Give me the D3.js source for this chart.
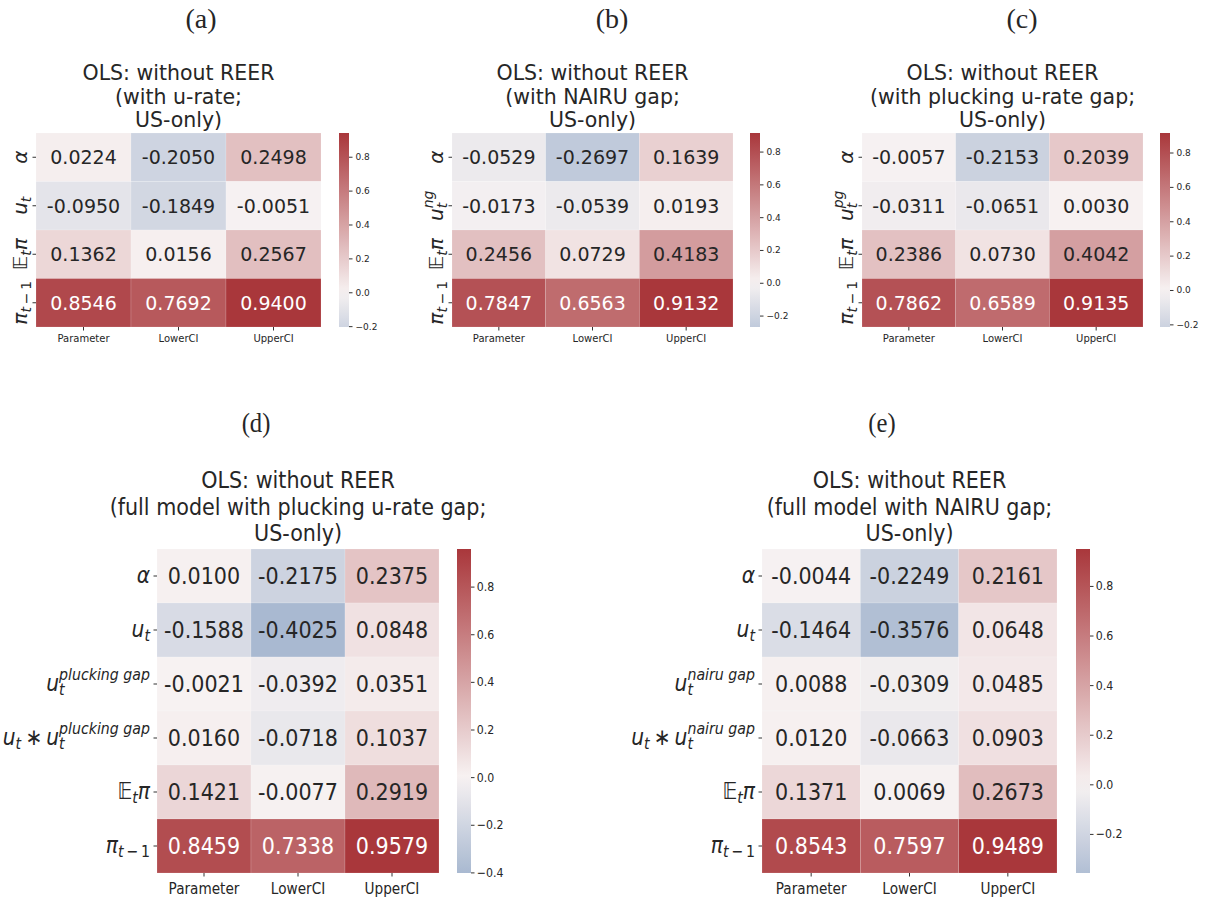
<!DOCTYPE html>
<html>
<head>
<meta charset="utf-8">
<script src="https://cdn.jsdelivr.net/npm/d3@7"></script>
<style>
  body { margin: 0; background: #fff; }
  svg text { fill: #262626; }
</style>
</head>
<body>
<svg id="fig" width="1225" height="907"></svg>
<script>
const columns = ["Parameter", "LowerCI", "UpperCI"];

// row labels as math pieces: {t, s}; s: sub (italic), subr (upright), sup, bb, op
const rowsTop4 = (gap) => [
  [{t: "α"}],
  gap ? [{t: "u"}, {t: "t", s: "sub"}, {t: gap, s: "sup"}] : [{t: "u"}, {t: "t", s: "sub"}],
  [{t: "𝔼", s: "bb"}, {t: "t", s: "sub"}, {t: "π"}],
  [{t: "π"}, {t: "t", s: "sub"}, {t: "\u2009−\u20091", s: "subr"}]
];
const rowsA = rowsTop4(null);
const rowsB = rowsTop4("ng");
const rowsC = rowsTop4("pg");
const rowsFull = (gap) => [
  [{t: "α"}],
  [{t: "u"}, {t: "t", s: "sub"}],
  [{t: "u"}, {t: "t", s: "sub"}, {t: gap, s: "sup"}],
  [{t: "u"}, {t: "t", s: "sub"}, {t: "\u2009∗\u2009", s: "op"}, {t: "u"}, {t: "t", s: "sub"}, {t: gap, s: "sup"}],
  [{t: "𝔼", s: "bb"}, {t: "t", s: "sub"}, {t: "π"}],
  [{t: "π"}, {t: "t", s: "sub"}, {t: "\u2009−\u20091", s: "subr"}]
];
const rowsD = rowsFull("plucking gap");
const rowsE = rowsFull("nairu gap");

const valuesA = [[0.0224, -0.2050, 0.2498], [-0.0950, -0.1849, -0.0051], [0.1362, 0.0156, 0.2567], [0.8546, 0.7692, 0.9400]];
const valuesB = [[-0.0529, -0.2697, 0.1639], [-0.0173, -0.0539, 0.0193], [0.2456, 0.0729, 0.4183], [0.7847, 0.6563, 0.9132]];
const valuesC = [[-0.0057, -0.2153, 0.2039], [-0.0311, -0.0651, 0.0030], [0.2386, 0.0730, 0.4042], [0.7862, 0.6589, 0.9135]];
const valuesD = [[0.0100, -0.2175, 0.2375], [-0.1588, -0.4025, 0.0848], [-0.0021, -0.0392, 0.0351],
                 [0.0160, -0.0718, 0.1037], [0.1421, -0.0077, 0.2919], [0.8459, 0.7338, 0.9579]];
const valuesE = [[-0.0044, -0.2249, 0.2161], [-0.1464, -0.3576, 0.0648], [0.0088, -0.0309, 0.0485],
                 [0.0120, -0.0663, 0.0903], [0.1371, 0.0069, 0.2673], [0.8543, 0.7597, 0.9489]];

const ticksTop = [-0.2, 0.0, 0.2, 0.4, 0.6, 0.8];
const ticksD = [-0.4, -0.2, 0.0, 0.2, 0.4, 0.6, 0.8];
const ticksE = [-0.2, 0.0, 0.2, 0.4, 0.6, 0.8];

const titleA = ["OLS: without REER", "(with u-rate;", "US-only)"];
const titleB = ["OLS: without REER", "(with NAIRU gap;", "US-only)"];
const titleC = ["OLS: without REER", "(with plucking u-rate gap;", "US-only)"];
const titleD = ["OLS: without REER", "(full model with plucking u-rate gap;", "US-only)"];
const titleE = ["OLS: without REER", "(full model with NAIRU gap;", "US-only)"];

const svg = d3.select("#fig");

// diverging colours centred at 0 (like seaborn center=0)
const cMid = "#f7f2f2", cRed = "#a9373b", cBlue = "#3d6aa3";
function colourFor(M) {
  const pos = d3.interpolateRgb(cMid, cRed), neg = d3.interpolateRgb(cMid, cBlue);
  return v => v >= 0 ? pos(v / M) : neg(-v / M);
}

function mathLabel(sel, pieces, fs) {
  const sf = fs * 0.7;
  pieces.forEach((p, i) => {
    const ts = sel.append("tspan");
    if (p.s === "sub" || p.s === "subr") {
      ts.attr("font-size", sf).attr("font-style", p.s === "sub" ? "italic" : "normal")
        .attr("baseline-shift", -(fs * 0.2) + "px");
    } else if (p.s === "sup") {
      const prev = pieces[i - 1];
      ts.attr("font-size", sf).attr("font-style", "italic")
        .attr("dx", prev && prev.s === "sub" ? -sf * 0.39 : 0)
        .attr("baseline-shift", (fs * 0.48) + "px");
    } else if (p.s === "bb" || p.s === "op") {
      ts.attr("font-size", fs).attr("font-style", "normal");
    } else {
      ts.attr("font-size", fs).attr("font-style", "italic");
    }
    ts.text(p.t);
  });
}

function heatmap(cfg) {
  const n = cfg.values.length;
  const sx = cfg.sx;
  const flat = cfg.values.flat();
  const vmin = d3.min(flat), vmax = d3.max(flat);
  const M = Math.max(Math.abs(vmin), Math.abs(vmax));
  const colour = colourFor(M);

  const x = d3.scaleBand().domain(columns).range([cfg.x0, cfg.x1]);
  const y = d3.scaleBand().domain(d3.range(n)).range([cfg.y0, cfg.y1]);
  const g = svg.append("g");

  // panel letter
  g.append("text").attr("transform", `translate(${cfg.letterX},${cfg.letterY}) scale(${sx},1)`)
    .attr("text-anchor", "middle").attr("font-family", "Liberation Serif, serif")
    .attr("font-size", 28).text(cfg.letter);

  // title
  const xm = (cfg.x0 + cfg.x1) / 2;
  cfg.title.forEach((line, i) => {
    g.append("text").attr("transform", `translate(${xm},${cfg.titleY + i * cfg.titleLh}) scale(${sx},1)`)
      .attr("text-anchor", "middle").attr("font-family", "DejaVu Sans, sans-serif")
      .attr("font-size", cfg.titleFs).text(line);
  });

  // cells
  const cells = [];
  cfg.values.forEach((row, r) => row.forEach((v, c) => cells.push({r, c, v})));
  g.selectAll("rect.cell").data(cells).enter().append("rect")
    .attr("x", d => x(columns[d.c])).attr("y", d => y(d.r))
    .attr("width", x.bandwidth()).attr("height", y.bandwidth())
    .attr("fill", d => colour(d.v))
    .attr("stroke", "#fff").attr("stroke-width", 0.5).attr("stroke-opacity", 0.3);

  g.selectAll("text.ann").data(cells).enter().append("text")
    .attr("transform", d => `translate(${x(columns[d.c]) + x.bandwidth() / 2},${y(d.r) + y.bandwidth() / 2}) scale(${sx},1)`)
    .attr("dy", "0.36em").attr("text-anchor", "middle")
    .attr("font-family", "DejaVu Sans, sans-serif").attr("font-size", cfg.annFs)
    .style("fill", d => d.v / M > 0.55 ? "#ffffff" : "#262626")
    .text(d => d.v.toFixed(4));

  // x axis
  const xa = g.append("g").attr("transform", `translate(0,${cfg.y1})`)
    .call(d3.axisBottom(x).tickSize(3.5).tickPadding(cfg.xPad));
  xa.select(".domain").remove();
  xa.selectAll("line").attr("stroke", "#333");
  xa.selectAll("text").attr("font-family", "DejaVu Sans, sans-serif")
    .attr("font-size", cfg.tickFs).attr("transform", `scale(${sx},1)`).style("fill", "#262626");

  // y ticks and labels
  y.domain().forEach(r => {
    const cy = y(r) + y.bandwidth() / 2;
    g.append("line").attr("x1", cfg.x0 - 3.5).attr("x2", cfg.x0).attr("y1", cy).attr("y2", cy)
      .attr("stroke", "#333");
    const t = g.append("text").attr("font-family", "DejaVu Sans, sans-serif");
    if (cfg.big) {
      t.attr("transform", `translate(${cfg.x0 - 7},${cy + 7}) scale(${sx},1)`).attr("text-anchor", "end");
    } else {
      t.attr("transform", `translate(${cfg.x0 - 9},${cy}) rotate(-90)`).attr("text-anchor", "middle");
    }
    mathLabel(t, cfg.rows[r], cfg.labFs);
  });

  // colour bar
  const cb = d3.scaleLinear().domain([vmin, vmax]).range([cfg.y1, cfg.y0]);
  const gid = "grad" + cfg.letter.replace(/[()]/g, "");
  const grad = svg.append("defs").append("linearGradient").attr("id", gid)
    .attr("x1", 0).attr("y1", 1).attr("x2", 0).attr("y2", 0);
  d3.range(0, 1.0001, 0.05).forEach(f => {
    grad.append("stop").attr("offset", f).attr("stop-color", colour(vmin + f * (vmax - vmin)));
  });
  g.append("rect").attr("x", cfg.cbX).attr("y", cfg.y0).attr("width", cfg.cbW)
    .attr("height", cfg.y1 - cfg.y0).attr("fill", `url(#${gid})`);
  const ca = g.append("g").attr("transform", `translate(${cfg.cbX + cfg.cbW},0)`)
    .call(d3.axisRight(cb).tickValues(cfg.ticks).tickSize(3.5).tickPadding(3)
      .tickFormat(d => d3.format(".1f")(d).replace("-", "−")));
  ca.select(".domain").remove();
  ca.selectAll("line").attr("stroke", "#333");
  ca.selectAll("text").attr("font-family", "DejaVu Sans, sans-serif")
    .attr("font-size", cfg.cbFs).attr("transform", `scale(${sx},1)`).style("fill", "#262626");
}

const small = {y0: 133, y1: 327, titleY: 80, titleLh: 23.5, titleFs: 20.5, annFs: 19, tickFs: 10,
               labFs: 20, cbFs: 9, cbW: 10, letterY: 28, big: false, sx: 1, xPad: 4};
const large = {y0: 549, y1: 873, titleY: 488, titleLh: 26.5, titleFs: 23.5, annFs: 23.5, tickFs: 15.5,
               labFs: 23, cbFs: 12.5, cbW: 14, letterY: 432, big: true, sx: 0.88, xPad: 7};

heatmap(Object.assign({}, small, {letter: "(a)", letterX: 201, x0: 36, x1: 321, cbX: 339,
  values: valuesA, rows: rowsA, title: titleA, ticks: ticksTop}));
heatmap(Object.assign({}, small, {letter: "(b)", letterX: 612, x0: 452, x1: 733, cbX: 750,
  values: valuesB, rows: rowsB, title: titleB, ticks: ticksTop}));
heatmap(Object.assign({}, small, {letter: "(c)", letterX: 1022, x0: 862, x1: 1143, cbX: 1160,
  values: valuesC, rows: rowsC, title: titleC, ticks: ticksTop}));
heatmap(Object.assign({}, large, {letter: "(d)", letterX: 256, x0: 157, x1: 439, cbX: 457,
  values: valuesD, rows: rowsD, title: titleD, ticks: ticksD}));
heatmap(Object.assign({}, large, {letter: "(e)", letterX: 882, x0: 762, x1: 1057, cbX: 1076,
  values: valuesE, rows: rowsE, title: titleE, ticks: ticksE}));
</script>
</body>
</html>
